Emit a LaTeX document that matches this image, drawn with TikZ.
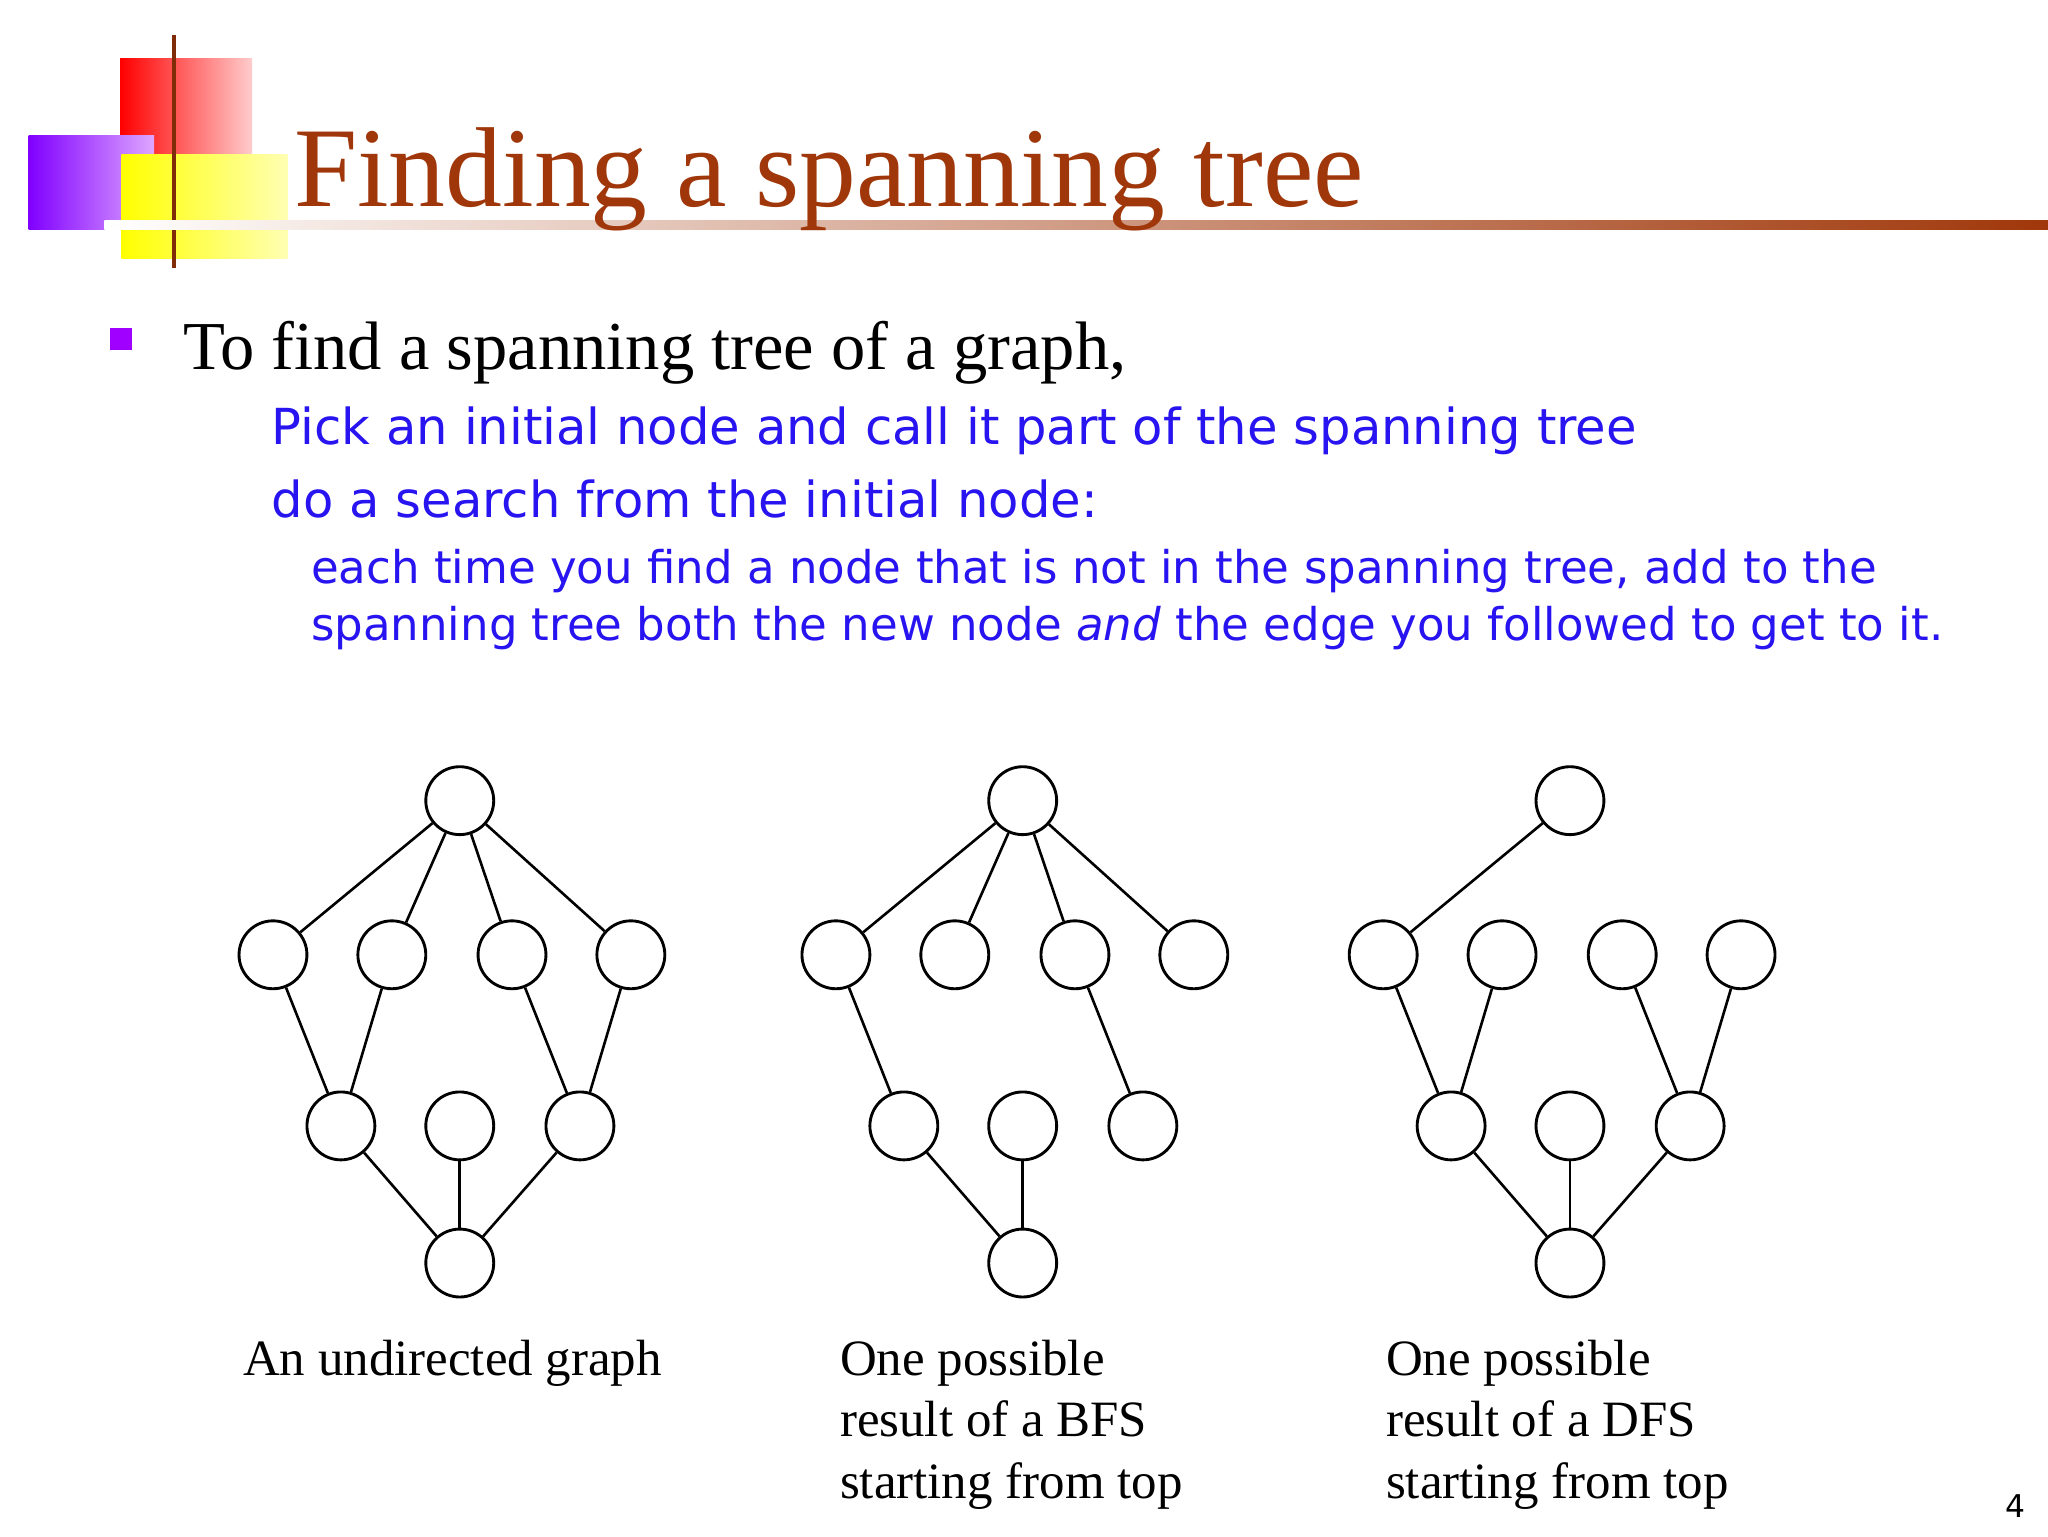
\documentclass[tikz,border=0pt]{standalone}
\usepackage{fontspec}
\setmainfont{Liberation Serif}
\newfontfamily\verd{DejaVu Sans}
\definecolor{brn}{RGB}{160,55,10}
\definecolor{blu}{RGB}{40,20,240}
\definecolor{pur}{RGB}{160,0,255}
\begin{document}
\begin{tikzpicture}[x=1pt,y=-1pt,
  vtx/.style={circle,draw,line width=2.2pt,minimum size=52pt,inner sep=0pt},
  edg/.style={line width=2pt},
  txt/.style={anchor=base west,inner sep=0pt},
  captext/.style={txt,font=\fontsize{39}{47}\selectfont},
  bl/.style={txt,text=blu,font=\verd\fontsize{38}{44}\selectfont},
  bs/.style={txt,text=blu,font=\verd\fontsize{34.5}{40}\selectfont}]
\useasboundingbox (0,0) rectangle (1568,1176);
\fill[white] (0,0) rectangle (1568,1176);
% decoration
\shade[left color=red,right color=red!20] (92,45) rectangle (193,118);
\shade[left color=pur!80!blue,right color=pur!35] (22,104) rectangle (118,176);
\shade[left color=yellow,right color=yellow!30] (93,118) rectangle (220,198);
\draw[brn!80!black,line width=3pt] (133,27) -- (133,205);
\shade[left color=white,right color=brn] (80,169) rectangle (1568,176);
\node[txt,text=brn,font=\fontsize{87}{90}\selectfont] (title) at (225,158) {Finding a spanning tree};
% bullet
\fill[pur] (84,251) rectangle (101,268);
\node[txt,font=\fontsize{52.5}{56}\selectfont] (l1) at (140,283) {To find a spanning tree of a graph,};
\node[bl] (l2) at (208,340) {Pick an initial node and call it part of the spanning tree};
\node[bl] (l3) at (208,396) {do a search from the initial node:};
\node[bs] (l4) at (238,447) {each time you find a node that is not in the spanning tree, add to the};
\node[bs] (l5) at (238,490) {spanning tree both the new node \textit{and} the edge you followed to get to it.};
% graphs
\foreach \g/\o in {a/0,b/431,c/850}{
  \node[vtx] (\g t) at (352+\o,613) {};
  \node[vtx] (\g 1) at (209+\o,731) {};
  \node[vtx] (\g 2) at (300+\o,731) {};
  \node[vtx] (\g 3) at (392+\o,731) {};
  \node[vtx] (\g 4) at (483+\o,731) {};
  \node[vtx] (\g 5) at (261+\o,862) {};
  \node[vtx] (\g 6) at (352+\o,862) {};
  \node[vtx] (\g 7) at (444+\o,862) {};
  \node[vtx] (\g b) at (352+\o,967) {};
}
\foreach \u/\v in {at/a1,at/a2,at/a3,at/a4,a1/a5,a2/a5,a3/a7,a4/a7,a5/ab,a6/ab,a7/ab,
  bt/b1,bt/b2,bt/b3,bt/b4,b1/b5,b3/b7,b5/bb,b6/bb,
  ct/c1,c1/c5,c2/c5,c3/c7,c4/c7,c5/cb,c6/cb,c7/cb}
  \draw[edg] (\u) -- (\v);
\node[captext] (c1t) at (186,1053) {An undirected graph};
\node[captext] (c2a) at (643,1053) {One possible};
\node[captext] (c2b) at (643,1100) {result of a BFS};
\node[captext] (c2c) at (643,1147) {starting from top};
\node[captext] (c3a) at (1061,1053) {One possible};
\node[captext] (c3b) at (1061,1100) {result of a DFS};
\node[captext] (c3c) at (1061,1147) {starting from top};
\node[anchor=base,inner sep=0pt,font=\verd\fontsize{24}{28}\selectfont] (pg) at (1543,1162) {4};
\end{tikzpicture}
\end{document}
